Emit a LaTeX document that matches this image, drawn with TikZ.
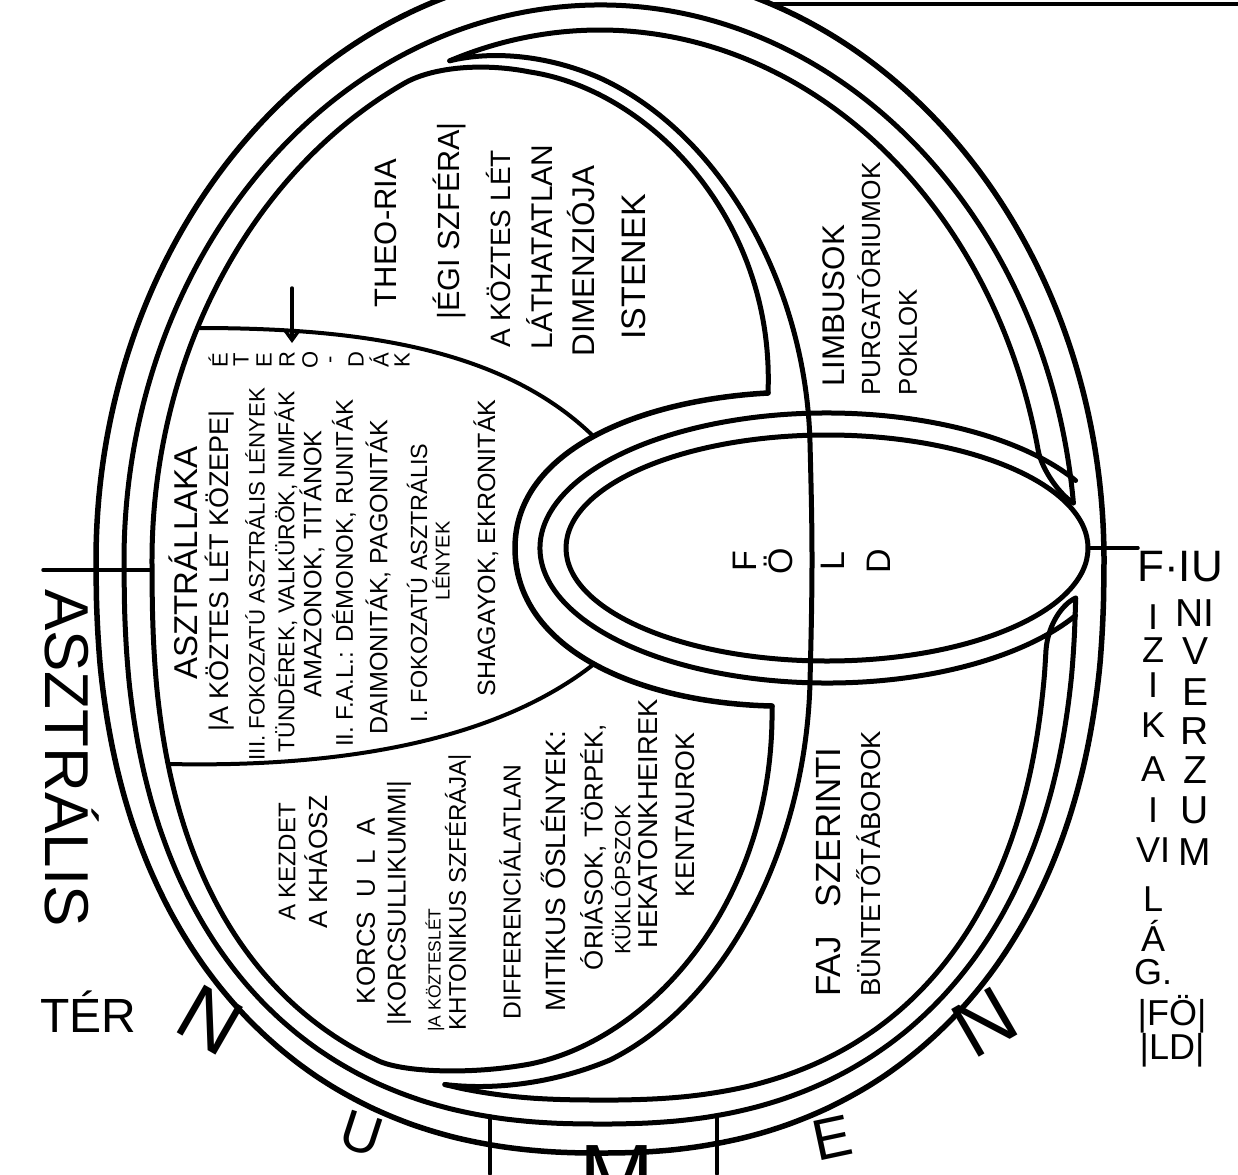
\documentclass[tikz,border=0pt]{standalone}
\usepackage{fontspec}
\newfontfamily\handfont{Liberation Sans}
\usetikzlibrary{arrows.meta}

\begin{document}
\begin{tikzpicture}[x=1pt, y=-1pt, line cap=round, line join=round]
    \tikzset{
        ring/.style={line width=5.5pt},
        band/.style={line width=5pt},
        rim/.style={line width=4pt},
        tick/.style={line width=3.5pt},
        field label/.style={rotate=90, inner sep=0pt, font=\handfont\fontsize{#1}{#1}\selectfont},
        rim letter/.style={inner sep=0pt, font=\handfont\fontsize{#1}{#1}\selectfont},
        declare function={
            sx(\angl,\expo)=cos(\angl)*abs(cos(\angl))^(\expo-1);
            sy(\angl,\expo)=abs(sin(\angl))^(\expo);
        }
    }
    \useasboundingbox (0,0) rectangle (1238,1174);
    \clip (0,0) rectangle (1238,1174);

    % outer rings (lower halves drawn squarer)
    \draw[ring] (600,561) ++(0:504pt and 592pt) arc[start angle=0, end angle=180, x radius=504pt, y radius=592pt]
        -- plot[variable=\t, domain=180.2:359.8, samples=72, smooth] ({600+504*sx(\t,0.88)}, {561+592*sy(\t,0.88)}) -- cycle;
    \draw[band] (600,561) ++(6:476pt and 556pt) arc[start angle=6, end angle=180, x radius=476pt, y radius=556pt]
        -- plot[variable=\t, domain=180.2:357.75, samples=60, smooth] ({600+476*sx(\t,0.84)}, {561+563*sy(\t,0.84)});

    % third ring, upper and lower arcs ending in the wedges
    \draw[band] (600,561) ++(109.6:448pt and 531pt) coordinate (wedge nw)
        arc[start angle=109.6, end angle=12, x radius=448pt, y radius=531pt]
        .. controls (1042,470) and (1060,495) .. (1073.4,502.9) coordinate (wedge ne);
    \draw[band] plot[variable=\t, domain=254.6:354, samples=50, smooth] ({600+448*sx(\t,0.8)}, {561+539*sy(\t,0.8)})
        .. controls (1048,625) and (1062,604) .. (1075.7,598) coordinate (wedge se);

    % left part of the third ring, turning into the inner band
    \draw[band] (768,393) coordinate (theoria corner)
        .. controls (775,220) and (650,90) .. (530,72)
        .. controls (480,62) and (430,68) .. (403.6,83.7)
        arc[start angle=116, end angle=180, x radius=448pt, y radius=531pt]
        -- plot[variable=\t, domain=180.2:245.7, samples=30, smooth] ({600+448*sx(\t,0.8)}, {561+539*sy(\t,0.8)})
        .. controls (405,1072) and (470,1075) .. (530,1064)
        .. controls (650,1040) and (775,902) .. (772,706) coordinate (chaos corner);

    % inner band through the earth
    \draw[band] (wedge nw)
        .. controls (490,51) and (545,54) .. (600,78)
        .. controls (720,133) and (806,283) .. (810,443)
        .. controls (811,483) and (812,520) .. (812,560)
        .. controls (812,600) and (811,640) .. (810,682)
        .. controls (806,842) and (730,1000) .. (610,1060)
        .. controls (550,1085) and (490,1090) .. (444.8,1084.5) coordinate (wedge sw);

    % earth rings
    \draw[band] (827,548) ellipse [x radius=261pt, y radius=113pt];
    \draw[band] (827,548) ++(30:287pt and 135pt) arc[start angle=30, end angle=330, x radius=287pt, y radius=135pt];
    \draw[ring] (theoria corner) .. controls (640,400) and (515,450) .. (515,548)
        .. controls (515,650) and (640,703) .. (chaos corner);

    % astral field
    \draw[rim] (197.4,328) .. controls (350,328) and (500,345) .. (593.5,436.4);
    \draw[rim] (168,764) .. controls (350,768) and (500,738) .. (594,664);

    % ticks
    \draw[tick] (43,570) -- (152,570);
    \draw[tick] (1088,548) -- (1138,548);
    \draw[tick] (771,4) -- (1238,4);
    \draw[tick] (490,1116) -- (490,1174);
    \draw[tick] (717,1115) -- (717,1174);

    % Ether arrow
    \coordinate (ether arrow top) at (292,288);
    \coordinate (ether arrow tip) at (292,343);
    \draw[tick, -{Straight Barb[length=9pt, width=13pt]}] (ether arrow top) -- (ether arrow tip);
    \foreach \ch [count=\i] in {É,T,E,R,O,-,D,Á,K}
        \node[field label=22] (ether-\i) at (195+23*\i,360) {\ch};

    % astral field texts
    \node[field label=33] (astral home) at (183,563) {ASZTRÁLLAKA};
    \node[field label=27] (middle of being) at (220,571) {|A KÖZTES LÉT KÖZEPE|};
    \node[field label=22.3] (third grade) at (255,574) {III. FOKOZATÚ ASZTRÁLIS LÉNYEK};
    \node[field label=22.9] (fairies) at (286,572) {TÜNDÉREK, VALKÜRÖK, NIMFÁK};
    \node[field label=25.2] (amazons) at (312,564) {AMAZONOK, TITÁNOK};
    \node[field label=24.1] (second grade) at (344,573) {II. F.A.L.: DÉMONOK, RUNITÁK};
    \node[field label=25.1] (daimonites) at (378,577) {DAIMONITÁK, PAGONITÁK};
    \node[field label=23.4] (first grade) at (417,583) {I. FOKOZATÚ ASZTRÁLIS};
    \node[field label=20] (first grade beings) at (441,561) {LÉNYEK};
    \node[field label=25] (shagayok) at (486,548) {SHAGAYOK, EKRONITÁK};

    % heavenly field
    \node[field label=31] (theoria) at (386,233) {THEO-RIA};
    \node[field label=30.6] (heavenly sphere) at (449,221) {|ÉGI SZFÉRA|};
    \node[field label=28] (between being) at (498,249) {A KÖZTES LÉT};
    \node[field label=29.9] (invisible) at (540,247) {LÁTHATATLAN};
    \node[field label=31.4] (dimension) at (581,261) {DIMENZIÓJA};
    \node[field label=34] (gods) at (634,267) {ISTENEK};

    % upper crescent
    \node[field label=31.3] (limbo) at (834,306) {LIMBUSOK};
    \node[field label=26.3] (purgatory) at (869,279) {PURGATÓRIUMOK};
    \node[field label=25.8] (hells) at (908,342) {POKLOK};

    % earth
    \foreach \ch/\px [count=\i] in {F/745, Ö/778, L/833, D/879}
        \node[field label=34] (earth-\i) at (\px,561) {\ch};

    % chthonic field
    \node[field label=24.1] (beginning) at (287,862) {A KEZDET};
    \node[field label=26.3] (chaos) at (316,862) {A KHÁOSZ};
    \node[field label=26] (korcs) at (366,911) {KORCS~~U~~L~~A};
    \node[field label=25.7] (kumarbi) at (399,903) {|KORCSULLIKUMMI|};
    \node[field label=17.5] (chthonic a) at (435,970) {|A KÖZTESLÉT};
    \node[field label=24.1] (chthonic b) at (458,892) {KHTONIKUS SZFÉRÁJA|};
    \node[field label=24.6] (undifferentiated) at (510,892) {DIFFERENCIÁLATLAN};
    \node[field label=28] (mythic) at (553,871) {MITIKUS ŐSLÉNYEK:};
    \node[field label=25.9] (giants) at (593,847) {ÓRIÁSOK, TÖRPÉK,};
    \node[field label=22.1] (cyclops) at (621,880) {KÜKLÓPSZOK};
    \node[field label=27.3] (hundred handed) at (648,824) {HEKATONKHEIREK};
    \node[field label=26.8] (centaurs) at (685,815) {KENTAUROK};

    % lower crescent
    \node[field label=35] (by species) at (828,872) {FAJ~~~SZERINTI};
    \node[field label=27.5] (penal camps) at (869,864) {BÜNTETŐTÁBOROK};

    % astral space, left
    \node[rotate=-90, rim letter=62] (astral) at (72,758) {ASZTRÁLIS};
    \node[rim letter=48] (space) at (88,1012) {TÉR};

    % physical universe, right
    \node[rim letter=44] (phys univ) at (1180,567) {F·IU};
    \foreach \ch/\py [count=\i] in {I/617, Z/650, I/685, K/725, A/769, I/810, VI/850, L/899, Á/936, G./972}
        \node[rim letter=36] (phys-\i) at (1153,\py) {\ch};
    \foreach \ch/\py [count=\i] in {NI/613, V/651, E/692, R/731, Z/770, U/810, M/852}
        \node[rim letter=39] (univ-\i) at (1195,\py) {\ch};
    \node[rim letter=36] (earth top) at (1172,1014) {|FÖ|};
    \node[rim letter=36] (earth bottom) at (1172,1050) {|LD|};

    % numen
    \node[rim letter=80, rotate=-30] (numen-1) at (210,1020) {N};
    \node[rim letter=56, rotate=-18] (numen-2) at (362,1134) {U};
    \node[rim letter=90, anchor=north] (numen-3) at (617,1145) {M};
    \node[rim letter=58, rotate=12] (numen-4) at (832,1138) {E};
    \node[rim letter=80, rotate=30] (numen-5) at (985,1022) {N};
\end{tikzpicture}
\end{document}
